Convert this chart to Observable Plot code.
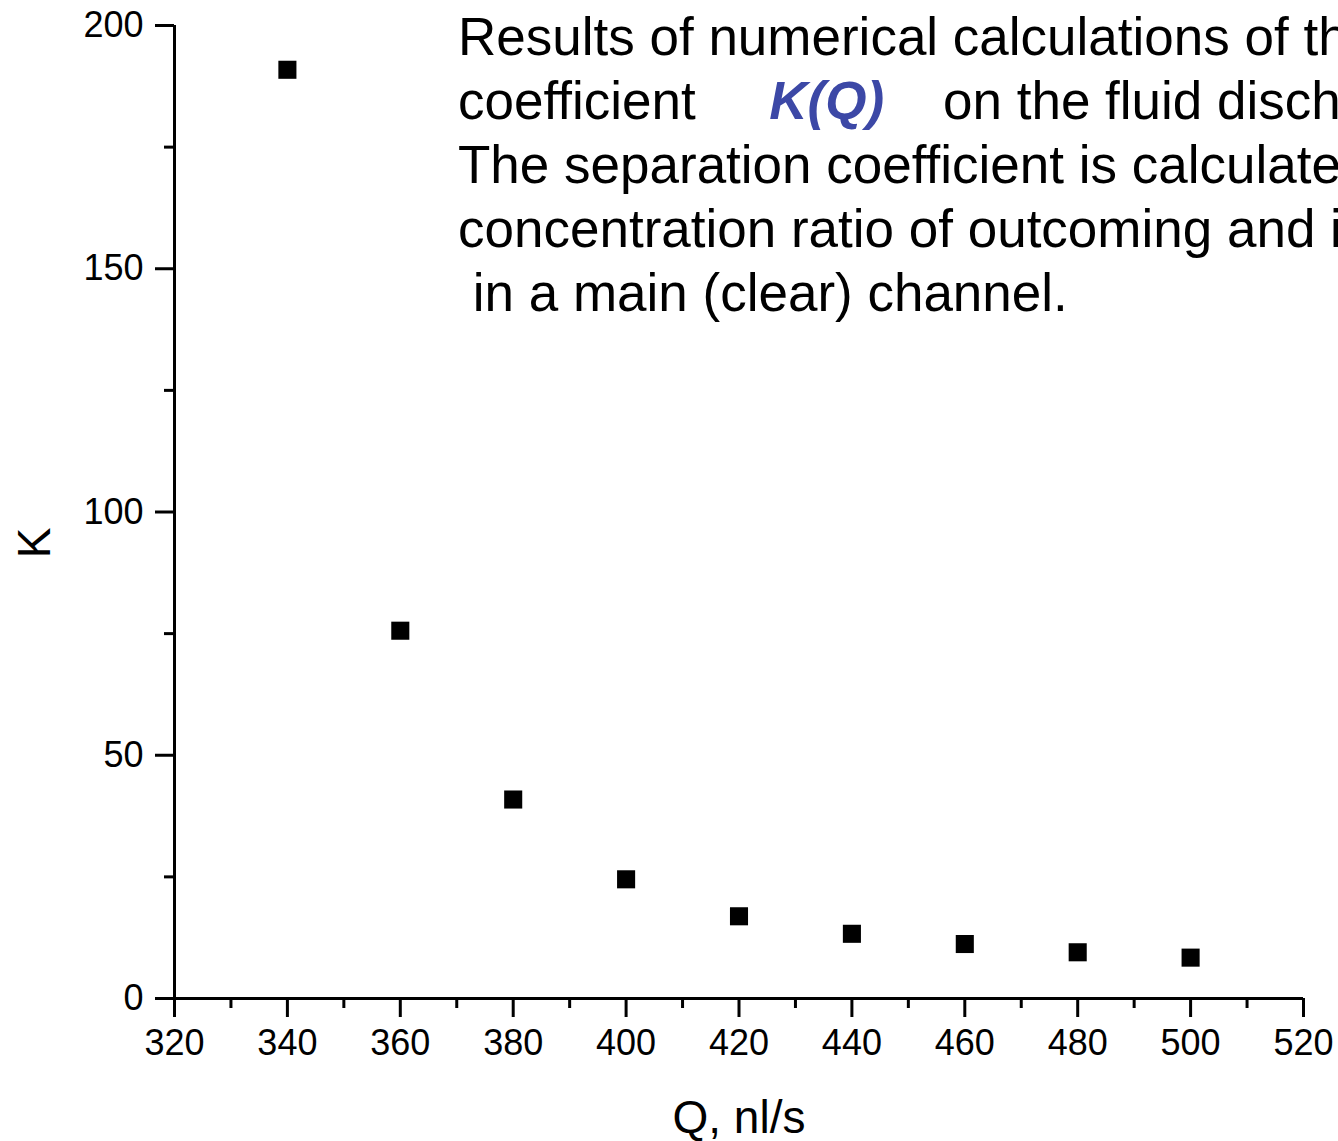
<!DOCTYPE html>
<html>
<head>
<meta charset="utf-8">
<script src="https://cdn.jsdelivr.net/npm/d3@7"></script>
<script src="https://cdn.jsdelivr.net/npm/@observablehq/plot@0.6"></script>
<style>
  html, body { margin: 0; padding: 0; background: #fff; }
  #wrap { position: relative; width: 1338px; height: 1141px; overflow: hidden; font-family: "Liberation Sans", Arial, sans-serif; }
  #note { position: absolute; left: 458px; top: 5px; font-size: 53px; line-height: 64px; white-space: pre; color: #000; }
  #note .kq { color: #3c48a6; font-style: italic; font-weight: bold; }
</style>
</head>
<body>
<div id="wrap">
  <div id="chart"></div>
  <div id="note">Results of numerical calculations of the dependence of the separation
coefficient     <span class="kq">K(Q)</span>    on the fluid discharge Q.
The separation coefficient is calculated as the
concentration ratio of outcoming and incoming particles
 in a main (clear) channel.</div>
</div>
<script>
const discharge = [340, 360, 380, 400, 420, 440, 460, 480, 500];
const coefK = [190.9, 75.6, 40.9, 24.5, 16.9, 13.3, 11.2, 9.5, 8.4];
const xMajorTicks = [320, 340, 360, 380, 400, 420, 440, 460, 480, 500, 520];
const xMinorTicks = [330, 350, 370, 390, 410, 430, 450, 470, 490, 510];
const yMajorTicks = [0, 50, 100, 150, 200];
const yMinorTicks = [25, 75, 125, 175];
const xLabel = "Q, nl/s";
const yLabel = "K";

const data = discharge.map((q, i) => ({q, k: coefK[i]}));
const noLabel = () => "";

const chart = Plot.plot({
  width: 1338,
  height: 1141,
  marginLeft: 174,
  marginRight: 35,
  marginTop: 25,
  marginBottom: 143,
  style: {fontFamily: "'Liberation Sans', Arial, sans-serif", color: "#000", background: "#fff"},
  x: {domain: [320, 520]},
  y: {domain: [0, 200]},
  marks: [
    Plot.axisX({ticks: xMajorTicks, tickSize: 19, tickPadding: 12, fontSize: 36, strokeWidth: 3, label: null, tickFormat: d3.format("d")}),
    Plot.axisX({ticks: xMinorTicks, tickSize: 10, tickFormat: noLabel, label: null, strokeWidth: 3}),
    Plot.axisY({ticks: yMajorTicks, tickSize: 19, tickPadding: 12, fontSize: 36, strokeWidth: 3, label: null, tickFormat: d3.format("d")}),
    Plot.axisY({ticks: yMinorTicks, tickSize: 10, tickFormat: noLabel, label: null, strokeWidth: 3}),
    Plot.ruleY([0], {strokeWidth: 3}),
    Plot.ruleX([320], {strokeWidth: 3}),
    Plot.dot(data, {x: "q", y: "k", symbol: "square", r: 10.2, fill: "#000", stroke: null}),
    Plot.text([xLabel], {frameAnchor: "bottom", dy: 120, fontSize: 46, lineAnchor: "middle", textAnchor: "middle", text: d => d}),
    Plot.text([yLabel], {frameAnchor: "left", dx: -139, dy: 31, rotate: -90, fontSize: 46, lineAnchor: "middle", textAnchor: "middle", text: d => d})
  ]
});
document.getElementById("chart").appendChild(chart);
</script>
</body>
</html>
